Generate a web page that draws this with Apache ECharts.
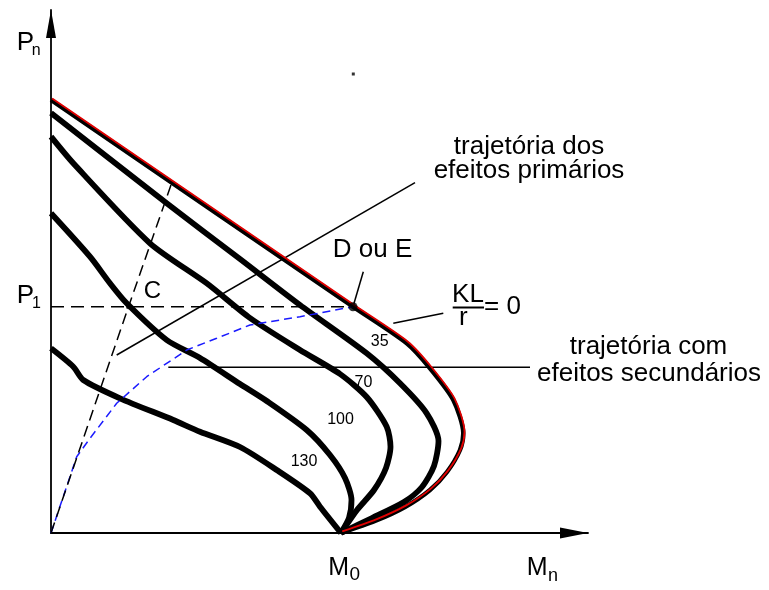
<!DOCTYPE html>
<html>
<head>
<meta charset="utf-8">
<script src="https://cdn.jsdelivr.net/npm/echarts@6/dist/echarts.min.js"></script>
<style>
  html, body { margin: 0; padding: 0; background: #fff; }
  #chart { width: 769px; height: 590px; }
</style>
</head>
<body>
<div id="chart"></div>
<script>
// Pn–Mn interaction curves of a slender column for several KL/r values.
// Units are arbitrary diagram units (M along x, P along y).

const slendernessLabels = ['35', '70', '100', '130'];

// KL/r = 0 envelope (short column)
const curveKL0 = [[0, 433], [302, 226.3], [355.7, 189.7], [379, 164.7], [402.3, 133], [412.3, 99.7],
  [409, 83], [396, 61], [379, 43], [354, 26], [324, 12], [290, 0]];
const curveKL35 = [[0, 420], [115.7, 329.7], [189, 274], [249, 228], [315.7, 179.7], [349, 149.7],
  [375.7, 119.7], [387.5, 92], [383, 67], [371, 46], [353, 31], [321, 15], [290, 0]];
const curveKL70 = [[0, 396.3], [22.3, 369.7], [99, 289.7], [155.7, 249.7], [199, 215], [249, 183],
  [289, 159], [315.7, 136], [335.7, 106.3], [339.5, 86.3], [335, 65], [323, 43], [306, 23], [290, 0]];
const curveKL100 = [[0, 319.7], [39, 276.3], [59, 249.7], [75.7, 229.7], [115.7, 193], [149, 175],
  [189, 149], [215.7, 132], [255.7, 103], [279, 78], [294, 55], [300.5, 33], [298, 15], [290, 0]];
const curveKL130 = [[0, 184.7], [22.3, 166.3], [32.3, 153], [69, 134.7], [122.3, 113], [149, 101.3],
  [189, 86], [225.7, 63], [259, 39.7], [269, 26.3], [290, 0]];

// load paths
const pathSecondary = [[0, 0], [25.7, 76.3], [39, 94.7], [65.7, 129.7], [95.7, 156.3], [135.7, 183],
  [165.7, 194.7], [199, 208], [249, 216.3], [302, 226.3]];
const pathPrimary = [[0, 0], [77.5, 226.3], [120.7, 350]];

// reference points and guide lines
const pointD = [302, 226.3];
const pointC = [77.5, 226.3];
const lineP1 = [[0, 226.3], [302, 226.3]];
const leaderPrimary = [[65.7, 178], [364, 350.3]];
const leaderSecondary = [[117.3, 165.7], [479, 165.7]];
const leaderKL0 = [[342.3, 209.7], [392.3, 219.7]];
const leaderD = [[302, 226.3], [312.3, 261.3]];
const speck = [[302.3, 459]];

const FONT = '"Liberation Sans", Arial, Helvetica, sans-serif';

function thick(data, width) {
  return {
    type: 'line', data: data, showSymbol: false, smooth: 0.25, silent: true,
    lineStyle: { color: '#000', width: width, join: 'round', cap: 'butt' }, z: 3
  };
}
function thin(data, dash, color) {
  return {
    type: 'line', data: data, showSymbol: false, silent: true,
    lineStyle: { color: color || '#000', width: 1.5, type: dash || 'solid' }, z: 4
  };
}
function txt(x, y, s, size, align) {
  return {
    type: 'text', x: x, y: y, silent: true, z: 10,
    style: { text: s, font: size + 'px ' + FONT, fill: '#000',
      textAlign: align || 'center', textVerticalAlign: 'middle' }
  };
}

const chart = echarts.init(document.getElementById('chart'), null, { renderer: 'canvas' });

const hiddenAxis = { show: false };

chart.setOption({
  animation: false,
  backgroundColor: '#fff',
  grid: [
    { left: 51, top: 10, right: 181, bottom: 57 },
    { left: 52.2, top: 8.4, right: 179.8, bottom: 58.6 }
  ],
  xAxis: [
    {
      type: 'value', min: 0, max: 537, gridIndex: 0,
      axisLine: { show: true, onZero: false, symbol: ['none', 'triangle'], symbolSize: [11, 28], symbolOffset: [0, -14],
        lineStyle: { color: '#000', width: 1.8 } },
      axisTick: { show: false }, axisLabel: { show: false }, splitLine: { show: false }
    },
    Object.assign({ type: 'value', min: 0, max: 537, gridIndex: 1 }, hiddenAxis)
  ],
  yAxis: [
    {
      type: 'value', min: 0, max: 523, gridIndex: 0,
      axisLine: { show: true, onZero: false, symbol: ['none', 'triangle'], symbolSize: [10, 28], symbolOffset: [0, -14],
        lineStyle: { color: '#000', width: 1.8 } },
      axisTick: { show: false }, axisLabel: { show: false }, splitLine: { show: false }
    },
    Object.assign({ type: 'value', min: 0, max: 523, gridIndex: 1 }, hiddenAxis)
  ],
  series: [
    thin(pathSecondary, [8, 5], '#1a1aff'),
    thin(pathPrimary, [11, 6]),
    thin(lineP1, [13, 7]),
    thin(leaderPrimary),
    thin(leaderSecondary),
    thin(leaderKL0),
    thin(leaderD),
    thick(curveKL130, 5.8),
    thick(curveKL100, 5.8),
    thick(curveKL70, 5.8),
    thick(curveKL35, 5.8),
    thick(curveKL0, 4.5),
    {
      type: 'line', data: curveKL0, xAxisIndex: 1, yAxisIndex: 1, showSymbol: false, smooth: 0.25, silent: true,
      lineStyle: { color: '#e00000', width: 1.8, join: 'round' }, z: 5
    },
    {
      type: 'scatter', data: [pointD], symbolSize: 9, silent: true,
      itemStyle: { color: '#000' }, z: 6
    },
    {
      type: 'scatter', data: [pointC], symbolSize: 5, silent: true,
      itemStyle: { color: '#000' }, z: 6
    },
    {
      type: 'scatter', data: speck, symbolSize: 3, symbol: 'rect', silent: true,
      itemStyle: { color: '#000' }, z: 6
    }
  ],
  graphic: [
    // axis titles
    txt(16.7, 43, 'P', 26, 'left'),
    txt(31.7, 51, 'n', 16, 'left'),
    txt(16.7, 295.5, 'P', 26, 'left'),
    txt(32, 303.5, '1', 16, 'left'),
    txt(328.3, 568.3, 'M', 25, 'left'),
    txt(349.5, 574.5, '0', 19, 'left'),
    txt(526.7, 568.3, 'M', 25, 'left'),
    txt(548, 575.8, 'n', 18, 'left'),
    // annotations
    txt(529, 147.3, 'trajetória dos', 26),
    txt(529, 170.6, 'efeitos primários', 26),
    txt(648.5, 346.6, 'trajetória com', 26),
    txt(649, 374, 'efeitos secundários', 26),
    txt(372.5, 249.5, 'D ou E', 26),
    txt(152.5, 291.7, 'C', 24),
    txt(468, 295, 'KL', 26),
    txt(463.3, 318, 'r', 26),
    txt(484, 306.5, '= 0', 26, 'left'),
    {
      type: 'line', silent: true, z: 10,
      shape: { x1: 452.7, y1: 307.5, x2: 484, y2: 307.5 },
      style: { stroke: '#000', lineWidth: 2 }
    },
    // slenderness labels
    txt(379.7, 341.8, slendernessLabels[0], 16),
    txt(363.5, 382.5, slendernessLabels[1], 16),
    txt(340.5, 420, slendernessLabels[2], 16),
    txt(304, 462, slendernessLabels[3], 16)
  ]
});
</script>
</body>
</html>
